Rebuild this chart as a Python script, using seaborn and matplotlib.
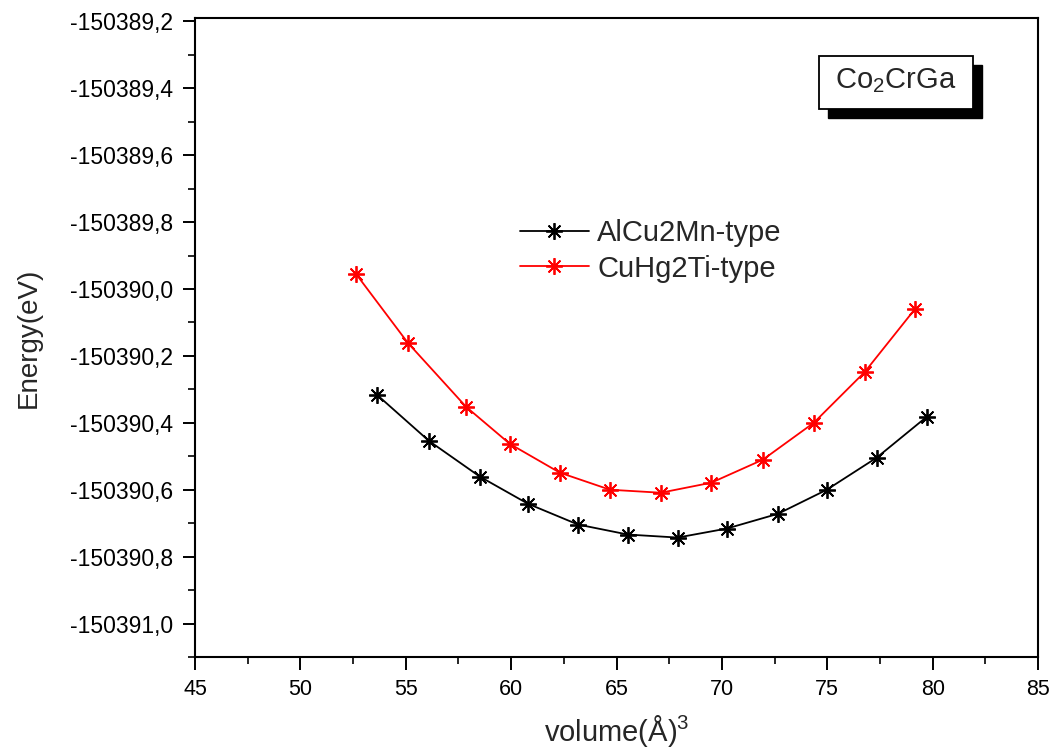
import matplotlib
matplotlib.use("Agg")
import matplotlib.pyplot as plt
import matplotlib.patches as mpatches
from matplotlib.ticker import MultipleLocator, FuncFormatter
import seaborn as sns
import numpy as np

# ---- data ----
vol_alcu2mn = [53.63, 56.10, 58.52, 60.80, 63.17, 65.54, 67.90, 70.24, 72.66, 74.98, 77.35, 79.72]
e_alcu2mn = [-150390.316, -150390.454, -150390.561, -150390.642, -150390.704, -150390.734,
             -150390.743, -150390.716, -150390.672, -150390.600, -150390.504, -150390.382]

vol_cuhg2ti = [52.64, 55.10, 57.86, 59.94, 62.31, 64.69, 67.10, 69.50, 71.95, 74.36, 76.78, 79.16]
e_cuhg2ti = [-150389.955, -150390.161, -150390.352, -150390.463, -150390.549, -150390.600,
             -150390.609, -150390.579, -150390.510, -150390.400, -150390.248, -150390.060]

series_labels = ["AlCu2Mn-type", "CuHg2Ti-type"]
series_colors = ["black", "red"]
compound = r"Co$_\mathregular{2}$CrGa"
xlabel = r"volume(Å)$^\mathregular{3}$"
ylabel = "Energy(eV)"

# ---- style ----
sns.set_style("ticks")
plt.rcParams["font.family"] = ["Liberation Sans", "DejaVu Sans"]
plt.rcParams["mathtext.fontset"] = "custom"
plt.rcParams["mathtext.rm"] = "Liberation Sans"
plt.rcParams["mathtext.it"] = "Liberation Sans:italic"
plt.rcParams["mathtext.bf"] = "Liberation Sans:bold"

W, H = 1051, 751
fig = plt.figure(figsize=(W / 100, H / 100), dpi=100)
ax = fig.add_axes([195 / W, 1 - 657 / H, (1038 - 195) / W, (657 - 18) / H])

mk = (8, 2, 0)
sns.lineplot(x=vol_alcu2mn, y=e_alcu2mn, ax=ax, color=series_colors[0], label=series_labels[0],
             marker=mk, markersize=12, markeredgewidth=1.3, markeredgecolor=series_colors[0],
             linewidth=1.3, sort=False)
sns.lineplot(x=vol_cuhg2ti, y=e_cuhg2ti, ax=ax, color=series_colors[1], label=series_labels[1],
             marker=mk, markersize=12, markeredgewidth=1.3, markeredgecolor=series_colors[1],
             linewidth=1.3, sort=False)

ax.set_xlim(45, 85)
ax.set_ylim(-150391.1, -150389.19)
ax.xaxis.set_major_locator(MultipleLocator(5))
ax.xaxis.set_minor_locator(MultipleLocator(2.5))
ax.yaxis.set_major_locator(MultipleLocator(0.2))
ax.yaxis.set_minor_locator(MultipleLocator(0.1))
ax.yaxis.set_major_formatter(FuncFormatter(lambda v, p: f"{v:.1f}".replace(".", ",")))
ax.xaxis.set_major_formatter(FuncFormatter(lambda v, p: f"{v:.0f}"))

for s in ax.spines.values():
    s.set_visible(True)
    s.set_color("black")
    s.set_linewidth(1.5)

ax.tick_params(which="major", direction="out", length=9, width=1.4,
               colors="black", pad=6, top=False, right=False)
ax.tick_params(which="minor", direction="out", length=5, width=1.4, top=False, right=False)
ax.tick_params(axis="y", which="major", labelsize=16.5, pad=7)
ax.tick_params(axis="x", which="major", labelsize=15.5, pad=7)

ax.set_xlabel(xlabel, fontsize=21, labelpad=9)
ax.set_ylabel(ylabel, fontsize=20, labelpad=20)

leg = ax.legend(loc="center left", bbox_to_anchor=(520 / W, 1 - 251 / H), bbox_transform=fig.transFigure,
                frameon=False, fontsize=21, handlelength=2.35, handletextpad=0.3,
                labelspacing=0.25, borderpad=0, borderaxespad=0)

# compound label box with shadow
sh = mpatches.Rectangle((828 / W, 1 - 118 / H), 154 / W, 53 / H, transform=fig.transFigure,
                        facecolor="black", edgecolor="black", lw=1.0, zorder=5)
bx = mpatches.Rectangle((819 / W, 1 - 109 / H), 154 / W, 53 / H, transform=fig.transFigure,
                        facecolor="white", edgecolor="black", lw=1.3, zorder=6)
fig.add_artist(sh)
fig.add_artist(bx)
fig.text(896 / W, 1 - 81 / H, compound, fontsize=21, ha="center", va="center", zorder=7)

fig.savefig("out.png", dpi=100)
